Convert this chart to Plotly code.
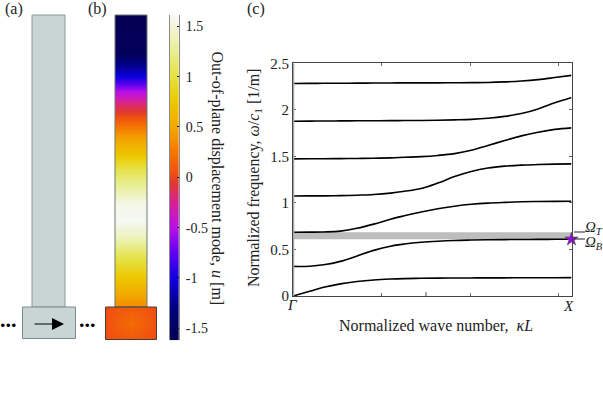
import numpy as np
import plotly.graph_objects as go

W, H = 603, 394
FONT = "Liberation Serif"
INK = "#222222"

# band structure; wave number as a fraction of the zone edge
zone_fraction = [0, .06, .11, .17, .23, .29, .35, .40, .46, .52, .58, .64, .70, .76, .82, .88, .94, 1]
bands = [
    [0, .05, .093, .13, .155, .172, .182, .187, .19, .192, .193, .194, .195, .195, .196, .196, .196, .197],
    [.318, .32, .335, .372, .43, .49, .535, .558, .577, .589, .597, .601, .604, .606, .607, .608, .609, .61],
    [.685, .686, .688, .697, .727, .772, .825, .862, .903, .938, .965, .985, .998, 1.006, 1.012, 1.015, 1.017, 1.018],
    [1.075, 1.076, 1.076, 1.078, 1.083, 1.09, 1.105, 1.125, 1.155, 1.213, 1.283, 1.338, 1.375, 1.395, 1.406, 1.412, 1.417, 1.42],
    [1.473, 1.474, 1.475, 1.476, 1.478, 1.48, 1.484, 1.49, 1.497, 1.51, 1.53, 1.565, 1.617, 1.67, 1.72, 1.76, 1.79, 1.806],
    [1.878, 1.879, 1.88, 1.881, 1.882, 1.883, 1.884, 1.885, 1.886, 1.888, 1.892, 1.898, 1.91, 1.93, 1.96, 2.01, 2.075, 2.133],
    [2.283, 2.284, 2.285, 2.286, 2.287, 2.288, 2.289, 2.29, 2.29, 2.29, 2.291, 2.292, 2.294, 2.3, 2.31, 2.325, 2.347, 2.37],
]
gap_bottom, gap_top = 0.61, 0.685
freq_ticks = [0, 0.5, 1, 1.5, 2, 2.5]
freq_labels = ["0", "0.5", "1", "1.5", "2", "2.5"]
wave_ticks = [0, 1, 2, 3]

# displacement colour map
mode_ticks = [-1.5, -1, -0.5, 0, 0.5, 1, 1.5]
mode_labels = ["-1.5", "-1", "-0.5", "0", "0.5", "1", "1.5"]
mode_min, mode_max = -1.62, 1.61
cmap_values = [-1.62, -1.3, -1.0, -.75, -.5, -.25, -.05, .05, .3, .5, .75, 1.0, 1.25, 1.61]
cmap_colors = ["#050050", "#000080", "#1000e0", "#6000f0", "#b810e8", "#d82098", "#e03a30",
               "#f05010", "#f58000", "#f2a800", "#ecc800", "#e6e040", "#e8ee90", "#f6f8f8"]

# mode shape along the beam (b), page-pixel height and displacement
beam_y = [15, 53, 63, 77, 90, 103, 117, 127, 137, 153, 170, 187, 203, 220, 237, 253, 267, 287, 307]
beam_u = [-1.6, -1.55, -1.3, -1.0, -.55, -.2, .05, .25, .45, .7, 1.05, 1.3, 1.55, 1.6, 1.4, 1.1, .9, .6, .35]
base_u = [[.03, .07, .09, .07, .03],
          [.05, .14, .2, .14, .05],
          [.03, .08, .11, .08, .03]]


def frac_x(px):
    return px / W


def frac_y(px):
    return 1 - px / H


colorscale = [[(v - mode_min) / (mode_max - mode_min), c] for v, c in zip(cmap_values, cmap_colors)]
cb_z = np.linspace(mode_min, mode_max, 200)
heat = dict(zmin=mode_min, zmax=mode_max, colorscale=colorscale, showscale=False, zsmooth="best", hoverinfo="skip")

fig = go.Figure()

# panel (b) beam and base, each on its own small axes so the cells stop at the outline
fig.add_trace(go.Heatmap(x=[0, 1], y=beam_y, z=[[u, u] for u in beam_u], xaxis="x4", yaxis="y4", **heat))
fig.add_trace(go.Heatmap(x=[0, 1, 2, 3, 4], y=[0, 1, 2], z=base_u, xaxis="x5", yaxis="y5", **heat))

# colour bar as its own axis
fig.add_trace(go.Heatmap(x=[0, 1], y=cb_z, z=[[v, v] for v in cb_z], xaxis="x3", yaxis="y3", **heat))

# panel (c)
wave = np.array(zone_fraction) * np.pi
for band in bands:
    fig.add_trace(go.Scatter(x=wave, y=band, mode="lines", line=dict(color="black", width=1.6, shape="spline", smoothing=1),
                             showlegend=False, hoverinfo="skip"))
fig.add_trace(go.Scatter(x=[np.pi], y=[gap_bottom], mode="markers", cliponaxis=False, showlegend=False,
                         marker=dict(symbol="star", size=10, color="#a000f0", line=dict(color="#555555", width=0.7))))

shapes = [
    # band gap and thick left spine
    dict(type="rect", xref="x", yref="y", x0=0, x1=np.pi, y0=gap_bottom, y1=gap_top, fillcolor="#bdbdbd", line_width=0, layer="below"),
    dict(type="line", xref="x", yref="y", x0=0, x1=0, y0=0, y1=2.5, line=dict(color="#a8a8a8", width=2.5)),
    dict(type="line", xref="x", yref="y", x0=1.5, x1=1.5, y0=0, y1=0.04, line=dict(color="#444444", width=1)),
]
# panel (a) schematic and outlines of (b)
for x0, x1, y0, y1, fill, edge in [
    (32, 65, 15, 307, "#c9d4d4", "#8a9a9a"),
    (22.5, 75.5, 307, 338.5, "#c9d4d4", "#7a8a8a"),
    (115, 147, 15, 307, None, "#6f7a70"),
    (105.5, 156.5, 307, 339.5, None, "#4a3a30"),
]:
    shapes.append(dict(type="rect", xref="x2", yref="y2", x0=x0, x1=x1, y0=y0, y1=y1,
                       fillcolor=fill if fill else "rgba(0,0,0,0)", line=dict(color=edge, width=1)))
# leaders to the gap labels
for y in (232, 239):
    shapes.append(dict(type="line", xref="x2", yref="y2", x0=574, x1=585, y0=y, y1=y, line=dict(color="#222222", width=1)))


def label(x, y, text, size=15, angle=0, color=INK):
    return dict(x=x, y=y, xref="x2", yref="y2", text=text, showarrow=False, textangle=angle,
                font=dict(family=FONT, size=size, color=color))


annotations = [
    label(14, 9, "(a)", size=16), label(97, 9, "(b)", size=16), label(256, 9, "(c)", size=16),
    label(8.5, 319, "<b>...</b>", size=22, color="black"), label(87.5, 319, "<b>...</b>", size=22, color="black"),
    label(217, 178.5, "Out-of-plane displacement mode, <i>u</i> [m]", size=16, angle=90),
    label(254, 178, "Normalized frequency, <i>ω</i>/<i>c</i><sub>1</sub> [1/m]", size=16, angle=-90),
    label(435.5, 325, "Normalized wave number,  <i>κL</i>", size=16),
    label(292, 305, "<i>Γ</i>", size=15), label(568.5, 306, "<i>X</i>", size=15),
    label(594, 227.5, "<i>Ω</i><sub><i>T</i></sub>", size=15), label(594, 243, "<i>Ω</i><sub><i>B</i></sub>", size=15),
    dict(x=64, y=324, ax=33, ay=324, xref="x2", yref="y2", axref="x2", ayref="y2", text="", showarrow=True,
         arrowhead=2, arrowsize=2, arrowwidth=1.2, arrowcolor="black"),
]

hidden = dict(visible=False, automargin=False)
fig.update_layout(
    width=W, height=H, autosize=False, margin=dict(l=0, r=0, t=0, b=0),
    paper_bgcolor="white", plot_bgcolor="rgba(0,0,0,0)", showlegend=False,
    shapes=shapes, annotations=annotations,
    xaxis=dict(domain=[frac_x(293), frac_x(571.5)], range=[0, np.pi], tickvals=wave_ticks, showticklabels=False,
               ticks="inside", ticklen=3, tickcolor="#666666", showgrid=False, zeroline=False, automargin=False,
               showline=True, linecolor="#444444", linewidth=1, mirror="ticks"),
    yaxis=dict(domain=[frac_y(296), frac_y(63.3)], range=[0, 2.5], tickvals=freq_ticks, ticktext=freq_labels,
               ticks="inside", ticklen=3, tickcolor="#666666", showgrid=False, zeroline=False, automargin=False,
               showline=True, linecolor="#444444", linewidth=1, mirror="ticks",
               tickfont=dict(family=FONT, size=15, color=INK)),
    xaxis2=dict(domain=[0, 1], range=[0, W], anchor="y2", **hidden),
    yaxis2=dict(domain=[0, 1], range=[H, 0], anchor="x2", **hidden),
    xaxis3=dict(domain=[frac_x(169.7), frac_x(179)], range=[0, 1], anchor="y3", **hidden),
    yaxis3=dict(domain=[frac_y(340.3), frac_y(15.3)], range=[mode_min, mode_max], anchor="x3", side="right",
                tickvals=mode_ticks, ticktext=mode_labels, ticks="inside", ticklen=2, tickcolor="#111111",
                showgrid=False, zeroline=False, showline=True, linecolor="#8a8a8a", linewidth=1, mirror=True,
                automargin=False, ticklabelstandoff=3, tickfont=dict(family=FONT, size=14, color=INK)),
    xaxis4=dict(domain=[frac_x(115), frac_x(147)], range=[0, 1], anchor="y4", **hidden),
    yaxis4=dict(domain=[frac_y(307), frac_y(15)], range=[307, 15], anchor="x4", **hidden),
    xaxis5=dict(domain=[frac_x(105.5), frac_x(156.5)], range=[0, 4], anchor="y5", **hidden),
    yaxis5=dict(domain=[frac_y(339.5), frac_y(307)], range=[0, 2], anchor="x5", **hidden),
)

fig.write_html("out.html", config=dict(displayModeBar=False), post_script="document.body.style.margin='0';")
